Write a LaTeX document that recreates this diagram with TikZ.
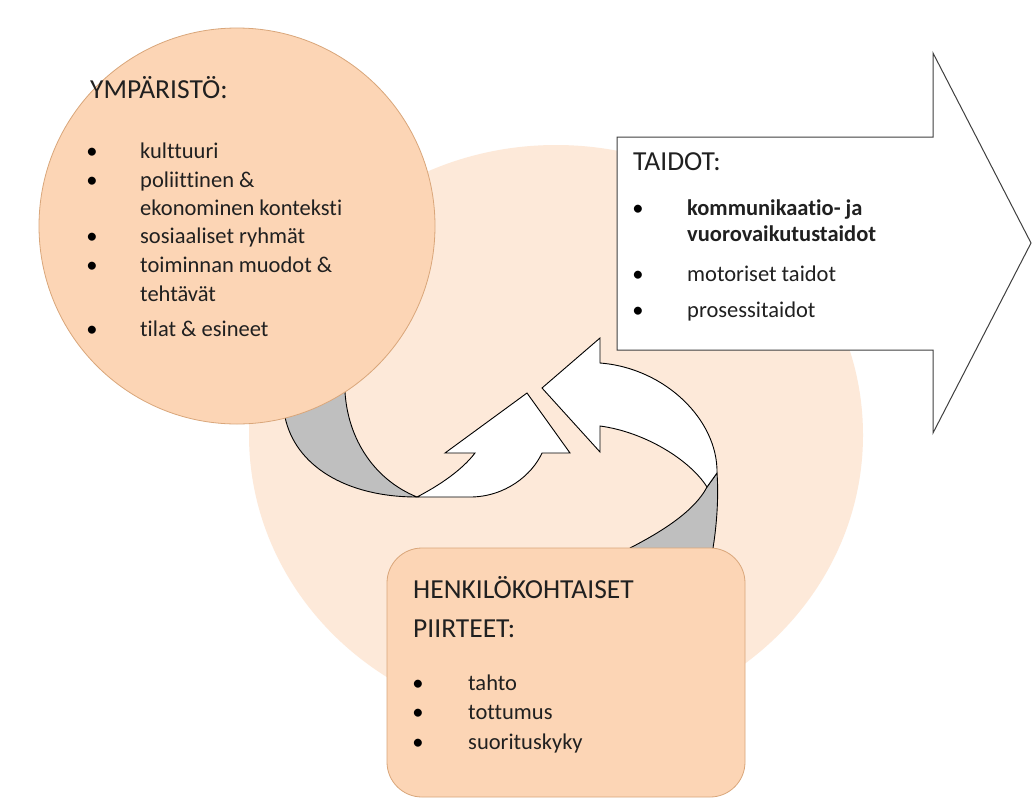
\documentclass[tikz,border=0pt]{standalone}
\usepackage{fontspec}
\setmainfont{Carlito}[Ligatures=NoCommon]
\usetikzlibrary{positioning}
\definecolor{peach}{HTML}{FCD5B5}
\definecolor{peachline}{HTML}{D9A67A}
\definecolor{palepeach}{HTML}{FDE9D9}
\definecolor{ribbon}{HTML}{BFBFBF}
\definecolor{ink}{HTML}{202020}
\tikzset{
  env/.style={fill=peach, draw=peachline, line width=0.8pt},
  backside/.style={fill=ribbon, draw=black, line width=0.9pt},
  frontside/.style={fill=white, draw=black, line width=0.9pt},
  bigarrow/.style={fill=white, draw=black!75, line width=1pt},
  head/.style={anchor=base west, inner sep=0, text=ink, font=\fontsize{27.5}{30}\selectfont},
  item/.style={anchor=base west, inner sep=0, text=ink, font=\fontsize{22.5}{26}\selectfont},
  dot/.style={anchor=base, inner sep=0, text=black, font=\fontsize{22.5}{26}\selectfont}
}

\begin{document}
\begin{tikzpicture}[x=1pt, y=-1pt]
  \useasboundingbox (0,0) rectangle (1033,801);
  \fill[white] (0,0) rectangle (1033,801);

  % pale background disc
  \fill[palepeach] (556,435) ellipse [x radius=307, y radius=290];

  % curved arrow from the environment
  \draw[backside] (280,385) -- (285,417) .. controls (295,465) and (345,497) .. (417,497)
    .. controls (375,480) and (348,440) .. (345,392) -- (345,380) -- cycle;
  \draw[frontside] (417,497) -- (470,497) .. controls (505,497) and (532,475) .. (542,453)
    -- (570,453) -- (527,393) -- (445,453) -- (475,453)
    .. controls (462,470) and (440,485) .. (417,497) -- cycle;

  % curved arrow from the person
  \draw[backside] (707,487) -- (717,473) .. controls (719,500) and (716,530) .. (713,548)
    -- (713,575) -- (630,575) -- (630,548) .. controls (665,530) and (695,510) .. (707,487) -- cycle;
  \draw[frontside] (717,473) .. controls (718,420) and (665,368) .. (600,363)
    -- (600,338) -- (542,388) -- (600,452) -- (600,426)
    .. controls (645,432) and (690,460) .. (707,487) -- cycle;

  % environment
  \draw[env] (237,226) circle [radius=198];
  \node[head](ymp) at (90,98){YMPÄRISTÖ:};
  \node[dot](yb1) at (92,158){\textbullet};
  \node[item](y1) at (140,158){kulttuuri};
  \node[dot](yb2) at (92,187){\textbullet};
  \node[item](y2) at (140,187){poliittinen \&};
  \node[item](y3) at (140,215){ekonominen konteksti};
  \node[dot](yb3) at (92,243){\textbullet};
  \node[item](y4) at (140,243){sosiaaliset ryhmät};
  \node[dot](yb4) at (92,272){\textbullet};
  \node[item](y5) at (140,272){toiminnan muodot \&};
  \node[item](y6) at (140,301){tehtävät};
  \node[dot](yb5) at (92,336){\textbullet};
  \node[item](y7) at (140,336){tilat \& esineet};

  % skills
  \draw[bigarrow] (617,137) -- (933,137) -- (933,53) -- (1031,243) -- (933,433)
    -- (933,350) -- (617,350) -- cycle;
  \node[head](taidot) at (633,170){TAIDOT:};
  \node[dot](tb1) at (638,215){\textbullet};
  \node[item](t1) at (687,215){\textbf{kommunikaatio- ja}};
  \node[item](t2) at (687,241){\textbf{vuorovaikutustaidot}};
  \node[dot](tb2) at (638,281){\textbullet};
  \node[item](t3) at (687,281){motoriset taidot};
  \node[dot](tb3) at (638,317){\textbullet};
  \node[item](t4) at (687,317){prosessitaidot};

  % person
  \draw[env, rounded corners=35pt] (387,548) rectangle (745,797);
  \node[head](henk) at (413,598){HENKILÖKOHTAISET};
  \node[head](piir) at (413,637){PIIRTEET:};
  \node[dot](pb1) at (418,690){\textbullet};
  \node[item](p1) at (468,690){tahto};
  \node[dot](pb2) at (418,719){\textbullet};
  \node[item](p2) at (468,719){tottumus};
  \node[dot](pb3) at (418,749){\textbullet};
  \node[item](p3) at (468,749){suorituskyky};
\end{tikzpicture}
\end{document}
